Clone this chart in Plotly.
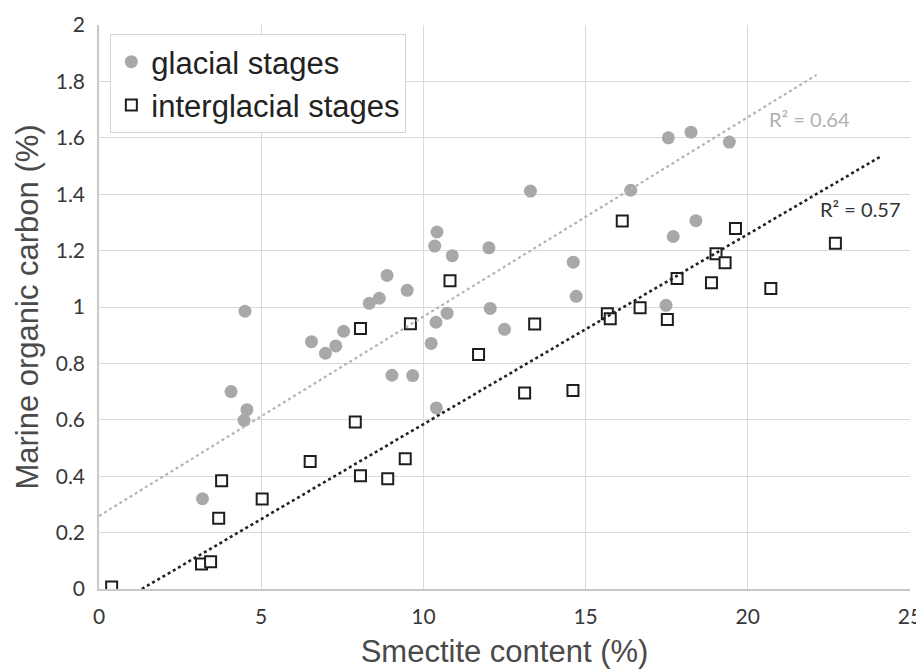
import plotly.graph_objects as go

# glacial stages (grey dots)
glacial_x = [3.19, 4.07, 4.50, 4.56, 4.47, 6.55, 6.98, 7.30, 7.54, 8.33, 8.64, 8.88,
             9.50, 9.03, 9.67, 10.24, 10.39, 10.40, 10.73, 10.35, 10.42, 10.89, 12.02,
             12.06, 12.50, 13.30, 14.62, 14.71, 16.39, 17.48, 17.70, 18.40, 17.55,
             18.25, 19.43]
glacial_y = [0.320, 0.700, 0.985, 0.636, 0.598, 0.877, 0.836, 0.862, 0.914, 1.013, 1.031, 1.112,
             1.059, 0.758, 0.757, 0.871, 0.946, 0.642, 0.978, 1.216, 1.266, 1.182, 1.210,
             0.995, 0.921, 1.411, 1.159, 1.038, 1.414, 1.006, 1.250, 1.306, 1.600,
             1.620, 1.585]

# interglacial stages (open squares)
inter_x = [0.39, 3.16, 3.44, 3.69, 3.78, 5.03, 6.51, 7.90, 8.06, 8.90, 9.44, 8.06,
           9.60, 10.82, 11.70, 13.12, 13.43, 14.61, 15.67, 15.76, 16.13, 16.68, 17.52,
           17.82, 18.88, 19.02, 19.30, 19.62, 20.71, 22.70]
inter_y = [0.007, 0.089, 0.097, 0.251, 0.384, 0.319, 0.452, 0.592, 0.402, 0.391, 0.462, 0.924,
           0.941, 1.093, 0.832, 0.695, 0.940, 0.704, 0.976, 0.958, 1.305, 0.997, 0.956,
           1.101, 1.086, 1.189, 1.157, 1.278, 1.066, 1.226]

# linear trendlines as drawn in the figure
glacial_fit_x = [0.0, 22.12]
glacial_fit_y = [0.259, 1.823]
inter_fit_x = [1.32, 24.13]
inter_fit_y = [0.0, 1.536]

x_ticks = [0, 5, 10, 15, 20, 25]
y_ticks = [0, 0.2, 0.4, 0.6, 0.8, 1, 1.2, 1.4, 1.6, 1.8, 2]
y_tick_text = ['0', '0.2', '0.4', '0.6', '0.8', '1', '1.2', '1.4', '1.6', '1.8', '2']

fig = go.Figure()
fig.add_trace(go.Scatter(x=glacial_x, y=glacial_y, mode='markers', name='glacial stages',
                         marker=dict(symbol='circle', size=13, color='#a8a8a8', line=dict(width=0))))
fig.add_trace(go.Scatter(x=inter_x, y=inter_y, mode='markers', name='interglacial stages',
                         marker=dict(symbol='square', size=11, color='white',
                                     line=dict(color='#1e1e1e', width=2))))
fig.add_trace(go.Scatter(x=glacial_fit_x, y=glacial_fit_y, mode='lines', showlegend=False,
                         line=dict(color='#b4b4b4', width=2.2, dash='dot')))
fig.add_trace(go.Scatter(x=inter_fit_x, y=inter_fit_y, mode='lines', showlegend=False,
                         line=dict(color='#222222', width=2.6, dash='dot')))

fig.add_annotation(x=21.9, y=1.666, text='R² = 0.64', showarrow=False,
                   font=dict(family='Lato', size=20, color='#b0b0b0'))
fig.add_annotation(x=23.46, y=1.346, text='R² = 0.57', showarrow=False,
                   font=dict(family='Lato', size=20, color='#333333'))

# page body adds an 8px offset, so the figure is 8px smaller than the window
fig.update_layout(
    width=916, height=663, autosize=False,
    margin=dict(l=91, r=14, t=17, b=82),
    plot_bgcolor='white', paper_bgcolor='white',
    font=dict(family='Arial, Liberation Sans', color='#404040'),
    showlegend=True,
    legend=dict(x=0.014, y=0.984, xanchor='left', yanchor='top',
                bgcolor='white', bordercolor='#d4d4d4', borderwidth=1,
                font=dict(family='Arial, Liberation Sans', size=31, color='#222222'),
                tracegroupgap=0, itemsizing='trace'),
)
fig.update_xaxes(range=[0, 25], tickvals=x_ticks, showgrid=True, gridcolor='#d9d9d9', gridwidth=1,
                 zeroline=False, showline=True, linecolor='#c8c8c8', linewidth=1.5,
                 ticks='', ticklabelstandoff=8, automargin=False,
                 tickfont=dict(family='Lato', size=21, color='#383838'),
                 title=dict(text='Smectite content (%)', standoff=13,
                            font=dict(family='Arial, Liberation Sans', size=31, color='#4a4a4a')))
fig.update_yaxes(range=[0, 2], tickvals=y_ticks, ticktext=y_tick_text, showgrid=True,
                 gridcolor='#d9d9d9', gridwidth=1,
                 zeroline=False, showline=True, linecolor='#c8c8c8', linewidth=1.5,
                 ticks='', ticklabelstandoff=8, automargin=False,
                 tickfont=dict(family='Lato', size=21, color='#383838'),
                 title=dict(text='Marine organic carbon (%)', standoff=8,
                            font=dict(family='Arial, Liberation Sans', size=31, color='#4a4a4a')))

fig.write_html("out.html")
